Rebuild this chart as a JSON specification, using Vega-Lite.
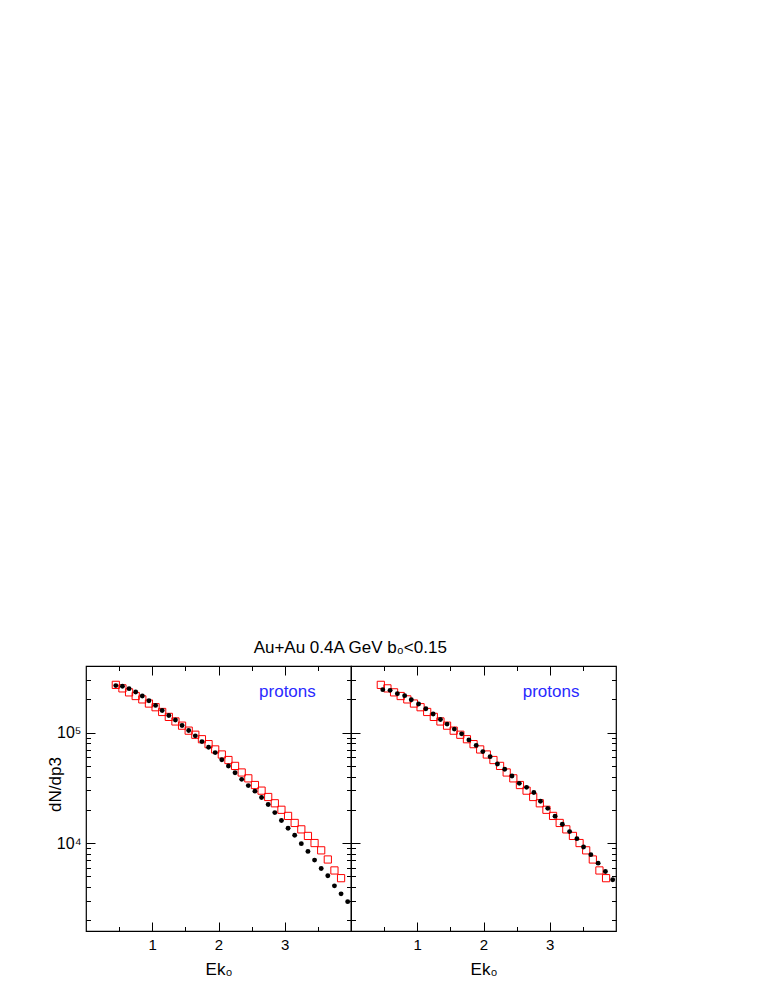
{
  "$schema": "https://vega.github.io/schema/vega-lite/v6.json",
  "background": "white",
  "padding": {"left": 45, "top": 638, "right": 5, "bottom": 5},
  "bounds": "flush",
  "spacing": 0,
  "title": {"text": "Au+Au 0.4A GeV b₀<0.15", "fontSize": 17, "font": "Liberation Sans", "fontWeight": "normal", "color": "black", "anchor": "middle", "offset": 8, "dx": 19},
  "datasets": {
    "model": [
      {"ek": 0.45, "dn": 270000}, {"ek": 0.55, "dn": 251000}, {"ek": 0.65, "dn": 231000}, {"ek": 0.75, "dn": 214000},
      {"ek": 0.85, "dn": 199500}, {"ek": 0.95, "dn": 183000}, {"ek": 1.05, "dn": 169500}, {"ek": 1.15, "dn": 153500},
      {"ek": 1.25, "dn": 138500}, {"ek": 1.35, "dn": 126000}, {"ek": 1.45, "dn": 115400}, {"ek": 1.55, "dn": 104000},
      {"ek": 1.65, "dn": 95500}, {"ek": 1.75, "dn": 87000}, {"ek": 1.85, "dn": 78500}, {"ek": 1.95, "dn": 70300},
      {"ek": 2.05, "dn": 63300}, {"ek": 2.15, "dn": 56400}, {"ek": 2.25, "dn": 49900}, {"ek": 2.35, "dn": 43500},
      {"ek": 2.45, "dn": 38500}, {"ek": 2.55, "dn": 33500}, {"ek": 2.65, "dn": 29800}, {"ek": 2.75, "dn": 26100},
      {"ek": 2.85, "dn": 22900}, {"ek": 2.95, "dn": 20000}, {"ek": 3.05, "dn": 17600}, {"ek": 3.15, "dn": 15200},
      {"ek": 3.25, "dn": 13300}, {"ek": 3.35, "dn": 11600}, {"ek": 3.45, "dn": 10000}, {"ek": 3.55, "dn": 8590},
      {"ek": 3.65, "dn": 7100}, {"ek": 3.75, "dn": 5650}, {"ek": 3.85, "dn": 4810}
    ],
    "dataLeft": [
      {"ek": 0.45, "dn": 265800}, {"ek": 0.55, "dn": 262000}, {"ek": 0.65, "dn": 249600}, {"ek": 0.75, "dn": 232900},
      {"ek": 0.85, "dn": 214200}, {"ek": 0.95, "dn": 194200}, {"ek": 1.05, "dn": 176000}, {"ek": 1.15, "dn": 158500},
      {"ek": 1.25, "dn": 142700}, {"ek": 1.35, "dn": 129700}, {"ek": 1.45, "dn": 115800}, {"ek": 1.55, "dn": 104300},
      {"ek": 1.65, "dn": 93300}, {"ek": 1.75, "dn": 82800}, {"ek": 1.85, "dn": 73700}, {"ek": 1.95, "dn": 65800},
      {"ek": 2.05, "dn": 56800}, {"ek": 2.15, "dn": 49800}, {"ek": 2.25, "dn": 43300}, {"ek": 2.35, "dn": 37700},
      {"ek": 2.45, "dn": 33100}, {"ek": 2.55, "dn": 29500}, {"ek": 2.65, "dn": 25800}, {"ek": 2.75, "dn": 22300},
      {"ek": 2.85, "dn": 18860}, {"ek": 2.95, "dn": 16000}, {"ek": 3.05, "dn": 13600}, {"ek": 3.15, "dn": 11750},
      {"ek": 3.25, "dn": 9870}, {"ek": 3.35, "dn": 8400}, {"ek": 3.45, "dn": 7010}, {"ek": 3.55, "dn": 5890},
      {"ek": 3.65, "dn": 5060}, {"ek": 3.75, "dn": 4100}, {"ek": 3.85, "dn": 3470}, {"ek": 3.95, "dn": 2950}
    ],
    "dataRight": [
      {"ek": 0.48, "dn": 244400}, {"ek": 0.59, "dn": 240900}, {"ek": 0.70, "dn": 224800}, {"ek": 0.81, "dn": 215600},
      {"ek": 0.91, "dn": 198300}, {"ek": 1.02, "dn": 181200}, {"ek": 1.13, "dn": 164200}, {"ek": 1.24, "dn": 147000},
      {"ek": 1.35, "dn": 131300}, {"ek": 1.45, "dn": 119200}, {"ek": 1.56, "dn": 107400}, {"ek": 1.67, "dn": 97300},
      {"ek": 1.78, "dn": 85800}, {"ek": 1.89, "dn": 76500}, {"ek": 1.99, "dn": 67200}, {"ek": 2.10, "dn": 60500},
      {"ek": 2.21, "dn": 51900}, {"ek": 2.32, "dn": 46500}, {"ek": 2.43, "dn": 40400}, {"ek": 2.54, "dn": 34700},
      {"ek": 2.65, "dn": 31900}, {"ek": 2.76, "dn": 28700}, {"ek": 2.86, "dn": 23900}, {"ek": 2.97, "dn": 20600},
      {"ek": 3.08, "dn": 17500}, {"ek": 3.19, "dn": 14800}, {"ek": 3.30, "dn": 12700}, {"ek": 3.41, "dn": 10960},
      {"ek": 3.51, "dn": 9200}, {"ek": 3.62, "dn": 7850}, {"ek": 3.73, "dn": 6580}, {"ek": 3.84, "dn": 5530},
      {"ek": 3.95, "dn": 4650}
    ],
    "label": [{"text": "protons"}]
  },
  "hconcat": [
    {
      "width": 265,
      "height": 265,
      "layer": [
        {
          "data": {"name": "model"},
          "mark": {"type": "square", "filled": false, "stroke": "#ff0000", "strokeWidth": 1, "size": 52, "opacity": 1},
          "encoding": {
            "x": {"field": "ek", "type": "quantitative", "scale": {"domain": [0, 4], "nice": false, "zero": false},
              "axis": {"orient": "bottom", "values": [0.5, 1, 1.5, 2, 2.5, 3, 3.5], "labelExpr": "datum.value % 1 === 0 ? '' + datum.value : ''",
                "tickSize": {"condition": {"test": "datum.value % 1 === 0", "value": -9}, "value": -4.5},
                "labelPadding": 15, "labelFontSize": 15, "labelOverlap": false, "labelFlush": false,
                "title": "Ek₀", "titleFontSize": 17, "titleY": 43, "titleBaseline": "alphabetic"}},
            "y": {"field": "dn", "type": "quantitative", "scale": {"type": "log", "domain": [1600, 400000], "nice": false},
              "axis": {"orient": "left", "values": [2000, 3000, 4000, 5000, 6000, 7000, 8000, 9000, 10000, 20000, 30000, 40000, 50000, 60000, 70000, 80000, 90000, 100000, 200000, 300000],
                "labelExpr": "datum.value === 100000 ? '10⁵' : datum.value === 10000 ? '10⁴' : ''",
                "tickSize": {"condition": {"test": "datum.value === 10000 || datum.value === 100000", "value": -9}, "value": -4.5},
                "labelPadding": 14, "labelFontSize": 16, "labelOverlap": false, "labelFlush": false,
                "title": "dN/dp3", "titleFontSize": 17, "titleX": -26, "titleY": 118, "titleAngle": -90, "titleBaseline": "alphabetic", "titleAlign": "center"}}
          }
        },
        {
          "data": {"name": "dataLeft"},
          "mark": {"type": "circle", "color": "black", "size": 24, "opacity": 1},
          "encoding": {
            "x": {"field": "ek", "type": "quantitative",
              "axis": {"orient": "top", "values": [0.5, 1, 1.5, 2, 2.5, 3, 3.5], "labels": false, "title": null,
                "tickSize": {"condition": {"test": "datum.value % 1 === 0", "value": -9}, "value": -4.5}}},
            "y": {"field": "dn", "type": "quantitative",
              "axis": {"orient": "right", "values": [2000, 3000, 4000, 5000, 6000, 7000, 8000, 9000, 10000, 20000, 30000, 40000, 50000, 60000, 70000, 80000, 90000, 100000, 200000, 300000],
                "labels": false, "title": null,
                "tickSize": {"condition": {"test": "datum.value === 10000 || datum.value === 100000", "value": -9}, "value": -4.5}}}
          }
        },
        {
          "data": {"name": "label"},
          "mark": {"type": "text", "color": "#2a2aff", "fontSize": 17, "font": "Liberation Sans", "align": "center", "baseline": "middle"},
          "encoding": {
            "x": {"datum": 3.04, "type": "quantitative", "axis": null},
            "y": {"datum": 231000, "type": "quantitative", "axis": null},
            "text": {"field": "text"}
          }
        }
      ],
      "resolve": {"axis": {"x": "independent", "y": "independent"}}
    },
    {
      "width": 265,
      "height": 265,
      "layer": [
        {
          "data": {"name": "model"},
          "mark": {"type": "square", "filled": false, "stroke": "#ff0000", "strokeWidth": 1, "size": 52, "opacity": 1},
          "encoding": {
            "x": {"field": "ek", "type": "quantitative", "scale": {"domain": [0, 4], "nice": false, "zero": false},
              "axis": {"orient": "bottom", "values": [0.5, 1, 1.5, 2, 2.5, 3, 3.5], "labelExpr": "datum.value % 1 === 0 ? '' + datum.value : ''",
                "tickSize": {"condition": {"test": "datum.value % 1 === 0", "value": -9}, "value": -4.5},
                "labelPadding": 15, "labelFontSize": 15, "labelOverlap": false, "labelFlush": false,
                "title": "Ek₀", "titleFontSize": 17, "titleY": 43, "titleBaseline": "alphabetic"}},
            "y": {"field": "dn", "type": "quantitative", "scale": {"type": "log", "domain": [1600, 400000], "nice": false},
              "axis": {"orient": "left", "values": [2000, 3000, 4000, 5000, 6000, 7000, 8000, 9000, 10000, 20000, 30000, 40000, 50000, 60000, 70000, 80000, 90000, 100000, 200000, 300000],
                "labels": false, "title": null,
                "tickSize": {"condition": {"test": "datum.value === 10000 || datum.value === 100000", "value": -9}, "value": -4.5}}}
          }
        },
        {
          "data": {"name": "dataRight"},
          "mark": {"type": "circle", "color": "black", "size": 24, "opacity": 1},
          "encoding": {
            "x": {"field": "ek", "type": "quantitative",
              "axis": {"orient": "top", "values": [0.5, 1, 1.5, 2, 2.5, 3, 3.5], "labels": false, "title": null,
                "tickSize": {"condition": {"test": "datum.value % 1 === 0", "value": -9}, "value": -4.5}}},
            "y": {"field": "dn", "type": "quantitative",
              "axis": {"orient": "right", "values": [2000, 3000, 4000, 5000, 6000, 7000, 8000, 9000, 10000, 20000, 30000, 40000, 50000, 60000, 70000, 80000, 90000, 100000, 200000, 300000],
                "labels": false, "title": null,
                "tickSize": {"condition": {"test": "datum.value === 10000 || datum.value === 100000", "value": -9}, "value": -4.5}}}
          }
        },
        {
          "data": {"name": "label"},
          "mark": {"type": "text", "color": "#2a2aff", "fontSize": 17, "font": "Liberation Sans", "align": "center", "baseline": "middle"},
          "encoding": {
            "x": {"datum": 3.02, "type": "quantitative", "axis": null},
            "y": {"datum": 231000, "type": "quantitative", "axis": null},
            "text": {"field": "text"}
          }
        }
      ],
      "resolve": {"axis": {"x": "independent", "y": "independent"}}
    }
  ],
  "config": {
    "view": {"stroke": "black", "strokeWidth": 1.2},
    "axis": {"domain": false, "grid": false, "tickColor": "black", "tickWidth": 1, "labelColor": "black", "titleColor": "black",
      "labelFont": "Liberation Sans", "titleFont": "Liberation Sans", "titleFontWeight": "normal"}
  }
}
